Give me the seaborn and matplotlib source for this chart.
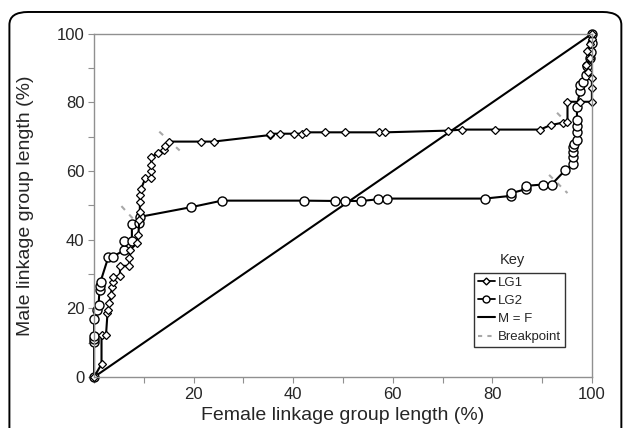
import matplotlib
matplotlib.use("Agg")
import matplotlib.pyplot as plt
import seaborn as sns
from matplotlib.lines import Line2D
from matplotlib.patches import FancyBboxPatch

# LG1 (diamonds): female %, male %
lg1_x = [0, 1.5, 1.5, 2.4, 2.7, 2.9, 3.1, 3.4, 3.6, 3.8, 3.9, 5.2, 5.2, 7.1, 7.1,
         7.2, 8.6, 8.9, 9.1, 9.2, 9.2, 9.2, 9.4, 10.3, 11.5, 11.5, 11.5, 11.5,
         12.9, 14.1, 14.3, 15.0, 21.5, 24.0, 35.3, 35.3, 37.4, 40.1, 41.8, 42.5,
         46.3, 50.4, 57.2, 58.5, 71.1, 74.0, 80.5, 89.6, 91.7, 94.1, 95.1, 95.1,
         97.6, 100, 100, 100, 99.3, 98.9, 99.6, 99.1, 99.6, 100, 100]
lg1_y = [0, 3.8, 12.2, 12.2, 18.6, 19.6, 21.5, 23.9, 26.3, 27.8, 29.2, 29.4, 32.4,
         32.4, 34.6, 37.0, 39.0, 41.4, 45.8, 48.2, 51.1, 53.1, 54.7, 57.9, 57.9,
         59.9, 61.8, 64.2, 65.2, 66.2, 67.3, 68.6, 68.6, 68.6, 70.5, 70.9, 70.9,
         70.9, 70.9, 71.3, 71.3, 71.3, 71.3, 71.3, 71.8, 72.1, 72.1, 72.1, 73.4,
         74.1, 74.3, 80.2, 80.2, 80.2, 84.2, 87.0, 89.0, 91.0, 93.0, 95.0, 97.0,
         98.5, 100]

# LG2 (circles)
lg2_x = [0, 0, 0, 0, 0, 0.5, 0.9, 1.1, 1.1, 1.3, 2.9, 3.8, 6.1, 6.1, 7.6, 7.6,
         9.1, 9.3, 19.5, 25.7, 42.1, 48.4, 50.4, 53.7, 57.1, 58.8, 78.5, 83.8,
         83.8, 86.7, 86.7, 90.2, 91.9, 94.6, 96.3, 96.3, 96.3, 96.3, 96.5, 97.0,
         97.0, 97.0, 97.0, 97.0, 97.6, 97.6, 98.3, 98.8, 99.1, 99.7, 99.9, 100, 100]
lg2_y = [0, 10.2, 11.0, 12.0, 16.9, 19.5, 21.0, 25.4, 26.4, 27.8, 35.1, 35.1, 37.0,
         39.7, 39.7, 44.6, 45.0, 46.7, 49.5, 51.4, 51.4, 51.3, 51.3, 51.3, 51.8,
         52.0, 52.0, 52.8, 53.6, 54.7, 55.7, 56.1, 56.1, 60.2, 62.1, 64.2, 65.5,
         67.0, 68.0, 69.1, 71.5, 73.2, 74.9, 78.8, 83.4, 85.0, 86.1, 88.0, 90.5,
         92.9, 94.8, 97.3, 100]

# M = F reference line
mf_x = [0, 100]
mf_y = [0, 100]

# breakpoints: short dashed segments (x0, x1, y0, y1)
bp_x0 = [5.5, 13.1, 93.0, 91.4]
bp_x1 = [9.5, 17.2, 95.6, 95.1]
bp_y0 = [49.8, 71.5, 77.0, 58.9]
bp_y1 = [43.5, 66.0, 73.2, 53.6]

x_ticks = list(range(0, 101, 10))
x_ticklabels = ["" if (t % 20 or t == 0) else str(t) for t in x_ticks]
y_ticks = list(range(0, 101, 10))
y_ticklabels = ["" if t % 20 else str(t) for t in y_ticks]

sns.set_theme(style="white")
plt.rcParams["font.family"] = ["Liberation Sans", "DejaVu Sans"]

fig = plt.figure(figsize=(6.27, 4.28), dpi=100)
ax = fig.add_axes([0.150, 0.119, 0.794, 0.802])

# outer rounded frame, its bottom edge runs off the picture
frame = FancyBboxPatch((0.015, -0.1), 0.976, 1.072,
                       boxstyle="round,pad=0,rounding_size=0.03",
                       transform=fig.transFigure, fill=False,
                       edgecolor="black", linewidth=1.4, clip_on=False)
fig.patches.append(frame)

sns.lineplot(x=mf_x, y=mf_y, ax=ax, color="black", linewidth=1.5,
             estimator=None, sort=False)

for i in range(len(bp_x0)):
    sns.lineplot(x=[bp_x0[i], bp_x1[i]], y=[bp_y0[i], bp_y1[i]], ax=ax,
                 color="#a8a8a8", linewidth=1.5, linestyle=(0, (2.5, 3)),
                 estimator=None, sort=False)

sns.lineplot(x=lg2_x, y=lg2_y, ax=ax, color="black", linewidth=1.5,
             estimator=None, sort=False, marker="o", markersize=6.5,
             markerfacecolor="white", markeredgecolor="black",
             markeredgewidth=1.0, clip_on=False)
sns.lineplot(x=lg1_x, y=lg1_y, ax=ax, color="black", linewidth=1.5,
             estimator=None, sort=False, marker="D", markersize=4.5,
             markerfacecolor="white", markeredgecolor="black",
             markeredgewidth=0.9, clip_on=False)

ax.set_xlim(0, 100)
ax.set_ylim(0, 100)
ax.set_xticks(x_ticks)
ax.set_xticklabels(x_ticklabels)
ax.set_yticks(y_ticks)
ax.set_yticklabels(y_ticklabels)
ax.tick_params(axis="both", direction="out", length=4, width=0.8,
               color="#909090", labelsize=12, pad=3,
               bottom=True, left=True)
for s in ax.spines.values():
    s.set_color("#909090")
    s.set_linewidth(1.0)
ax.set_xlabel("Female linkage group length (%)", fontsize=14, labelpad=4)
ax.set_ylabel("Male linkage group length (%)", fontsize=14, labelpad=16)

handles = [
    Line2D([0], [0], color="black", lw=1.3, marker="D", markersize=3.5,
           markerfacecolor="white", markeredgecolor="black"),
    Line2D([0], [0], color="black", lw=1.3, marker="o", markersize=5,
           markerfacecolor="white", markeredgecolor="black"),
    Line2D([0], [0], color="black", lw=1.5),
    Line2D([0], [0], color="#a8a8a8", lw=1.5, linestyle=(0, (2, 2.5))),
]
leg = ax.legend(handles, ["LG1", "LG2", "M = F", "Breakpoint"],
                loc="lower left", bbox_to_anchor=(0.763, 0.087),
                frameon=True, fancybox=False, fontsize=9.5,
                handlelength=1.3, handletextpad=0.25, borderpad=0.3,
                borderaxespad=0, labelspacing=0.45)
leg.get_frame().set_edgecolor("black")
leg.get_frame().set_linewidth(1.0)
# "Key" sits above the box, outside the frame
ax.text(0.84, 0.322, "Key", transform=ax.transAxes, ha="center",
        va="bottom", fontsize=10.5)

fig.savefig("out.png", dpi=100)
